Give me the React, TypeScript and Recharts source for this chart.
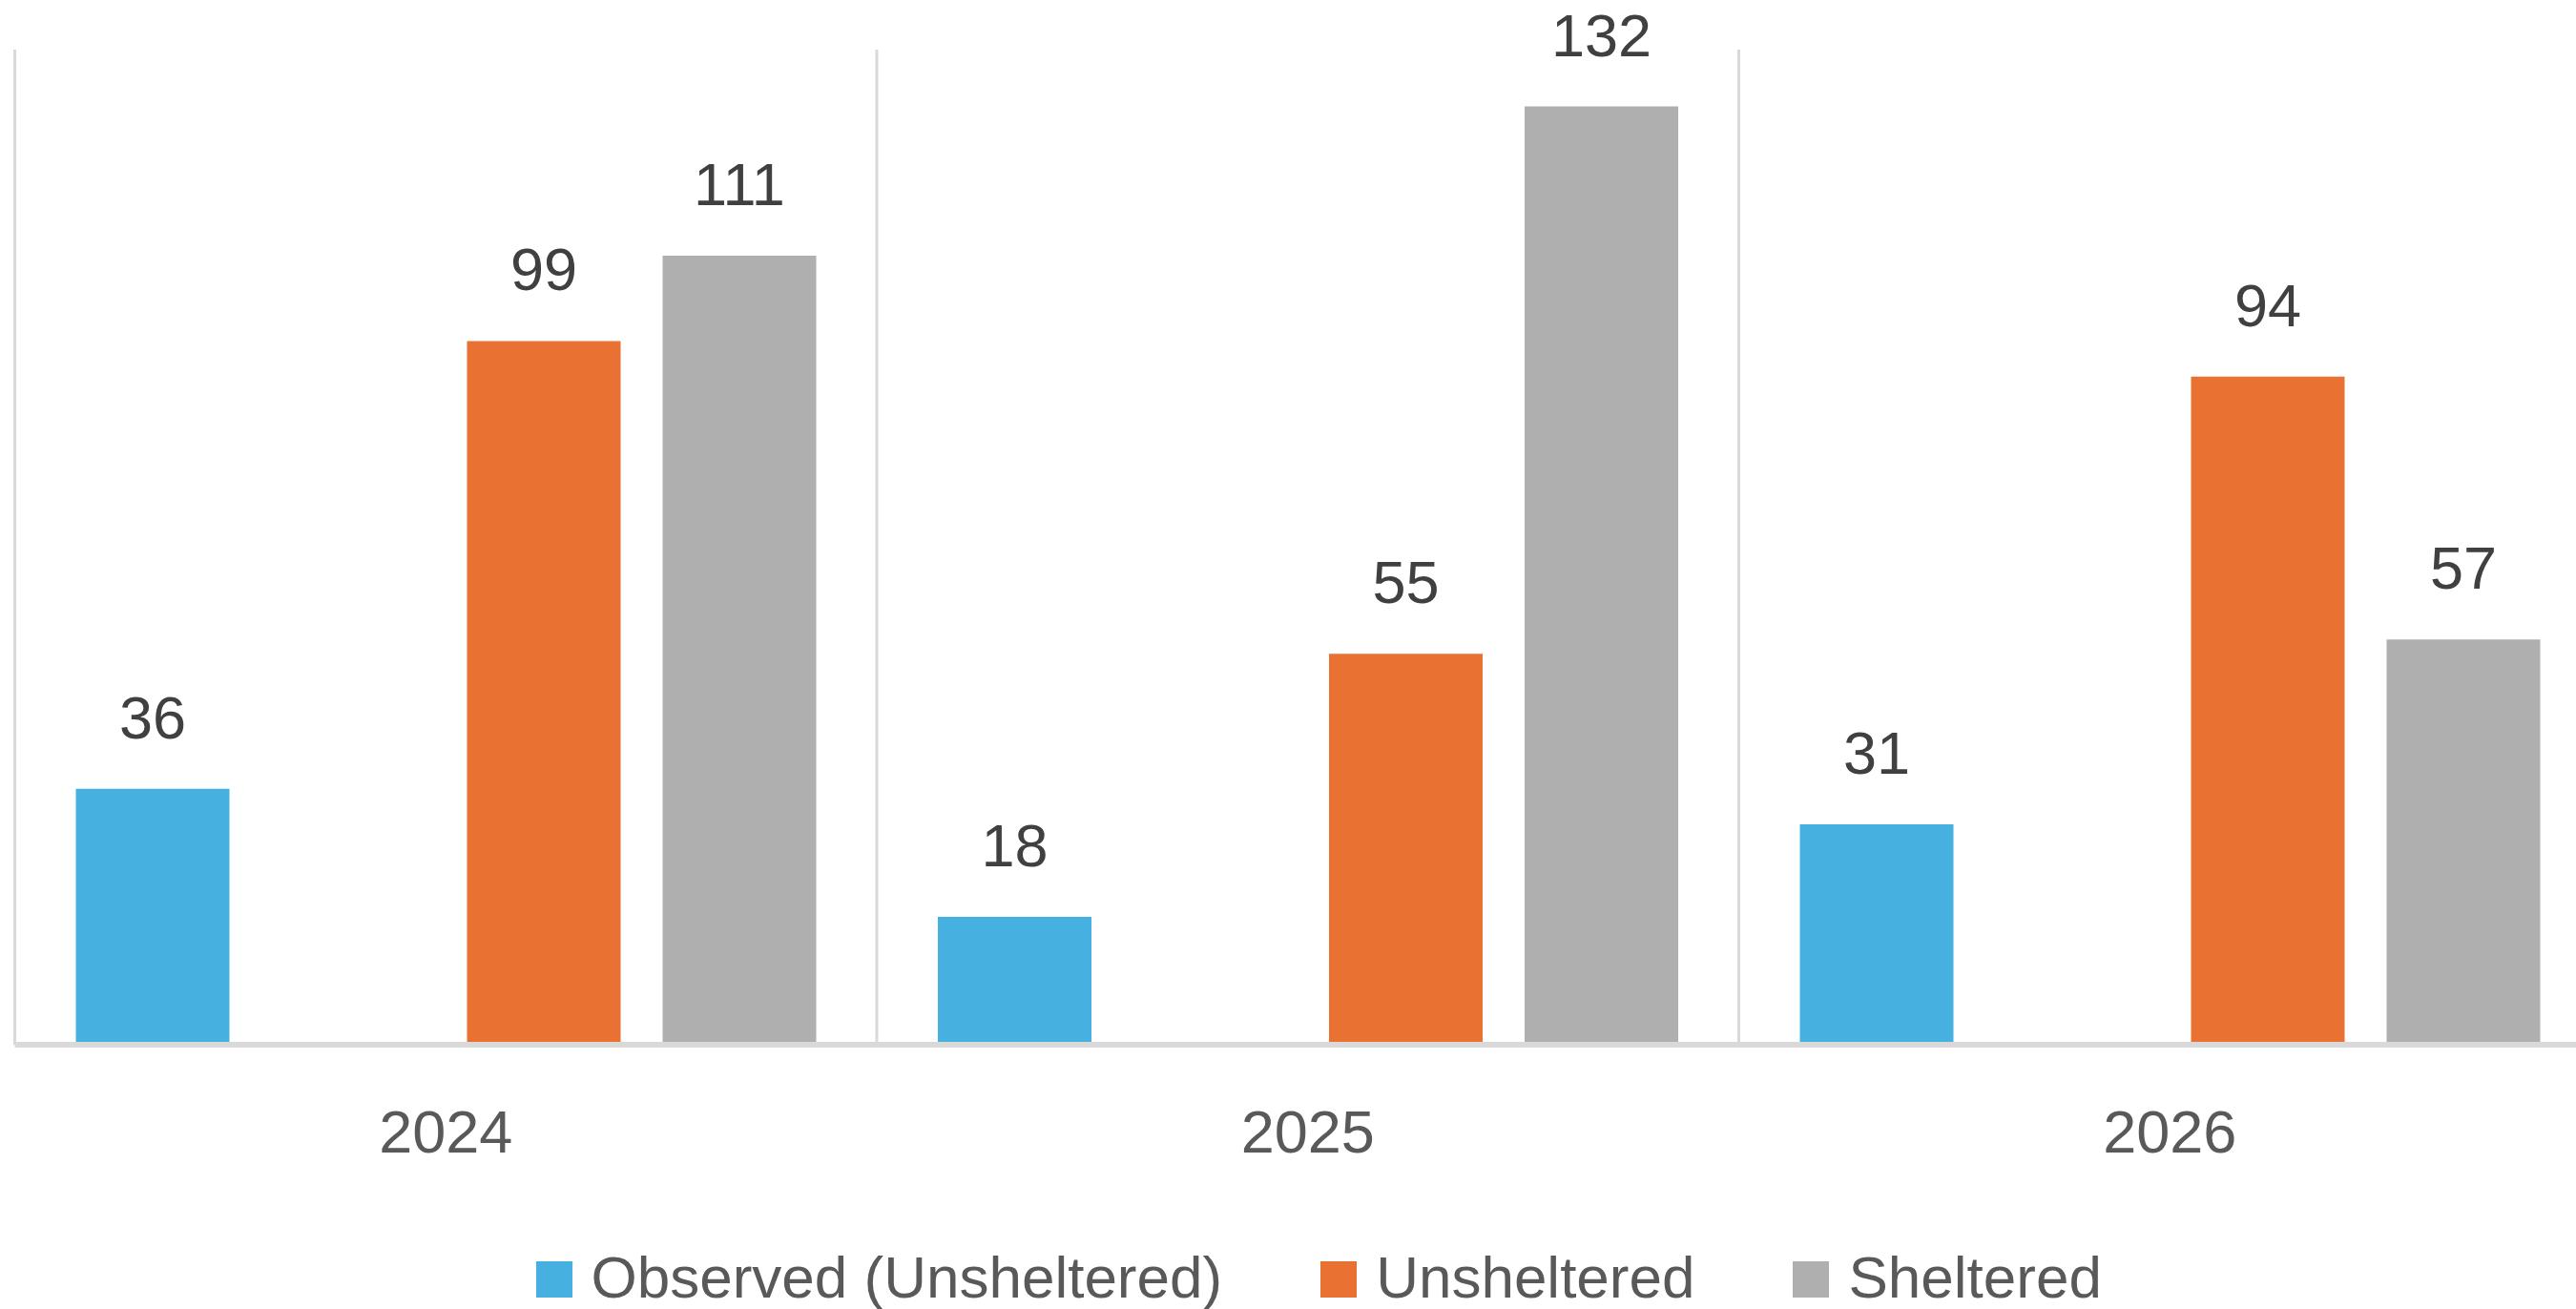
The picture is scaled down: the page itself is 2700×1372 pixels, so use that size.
import React from 'react';
import { BarChart, Bar, XAxis, YAxis, CartesianGrid, LabelList, Legend } from 'recharts';

const years = ['2024', '2025', '2026'];
const observedUnsheltered = [36, 18, 31];
const emptySlot: (number | null)[] = [null, null, null];
const unsheltered = [99, 55, 94];
const sheltered = [111, 132, 57];
const yDomain: [number, number] = [0, 140];

const series = [
  { key: 'observed', name: 'Observed (Unsheltered)', color: '#46B1E1', inLegend: true },
  { key: 'empty', name: '', color: 'transparent', inLegend: false },
  { key: 'unsheltered', name: 'Unsheltered', color: '#E97132', inLegend: true },
  { key: 'sheltered', name: 'Sheltered', color: '#AFAFAF', inLegend: true },
];

const data = years.map((year, i) => ({
  year,
  observed: observedUnsheltered[i],
  empty: emptySlot[i],
  unsheltered: unsheltered[i],
  sheltered: sheltered[i],
}));

const FONT = '"Liberation Sans", Arial, sans-serif';

const LegendContent = () => (
  <div
    style={{
      height: 72,
      boxSizing: 'border-box',
      paddingTop: 8,
      paddingLeft: 546,
      display: 'flex',
      alignItems: 'baseline',
      fontFamily: FONT,
      fontSize: 62,
      lineHeight: '62px',
      color: '#595959',
      whiteSpace: 'nowrap',
    }}
  >
    {series.filter((s) => s.inLegend).map((s, i) => (
      <div key={s.key} style={{ display: 'flex', alignItems: 'baseline', marginLeft: i === 0 ? 0 : 103 }}>
        <span style={{ display: 'inline-block', width: 38, height: 38, background: s.color, marginRight: 20 }} />
        <span>{s.name}</span>
      </div>
    ))}
  </div>
);

export default function App() {
  return (
    <div style={{ position: 'fixed', left: 0, top: 0, width: 2700, height: 1372, overflow: 'hidden', background: '#fff' }}>
      <BarChart
        width={2726}
        height={1372}
        data={data}
        margin={{ top: 52, right: 0, bottom: 0, left: 15.5 }}
        barSize={161}
        barGap={44}
        style={{ fontFamily: FONT }}
      >
        <CartesianGrid
          horizontal={false}
          stroke="#D9D9D9"
          strokeWidth={3}
          verticalCoordinatesGenerator={({ offset }: any) =>
            years.map((_, i) => offset.left + (i * offset.width) / years.length)
          }
        />
        <YAxis hide domain={yDomain} />
        {series.map((s) => (
          <Bar
            key={s.key}
            dataKey={s.key}
            name={s.name}
            fill={s.color}
            isAnimationActive={false}
            legendType={s.inLegend ? 'square' : 'none'}
          >
            {s.inLegend && (
              <LabelList
                dataKey={s.key}
                position="top"
                offset={53}
                fill="#404040"
                fontSize={63}
                fontFamily={FONT}
              />
            )}
          </Bar>
        ))}
        <XAxis
          dataKey="year"
          height={205}
          tickLine={false}
          tickSize={0}
          tickMargin={68}
          axisLine={{ stroke: '#D9D9D9', strokeWidth: 6 }}
          tick={{ fill: '#595959', fontSize: 63, fontFamily: FONT }}
        />
        <Legend verticalAlign="bottom" content={<LegendContent />} />
      </BarChart>
    </div>
  );
}
